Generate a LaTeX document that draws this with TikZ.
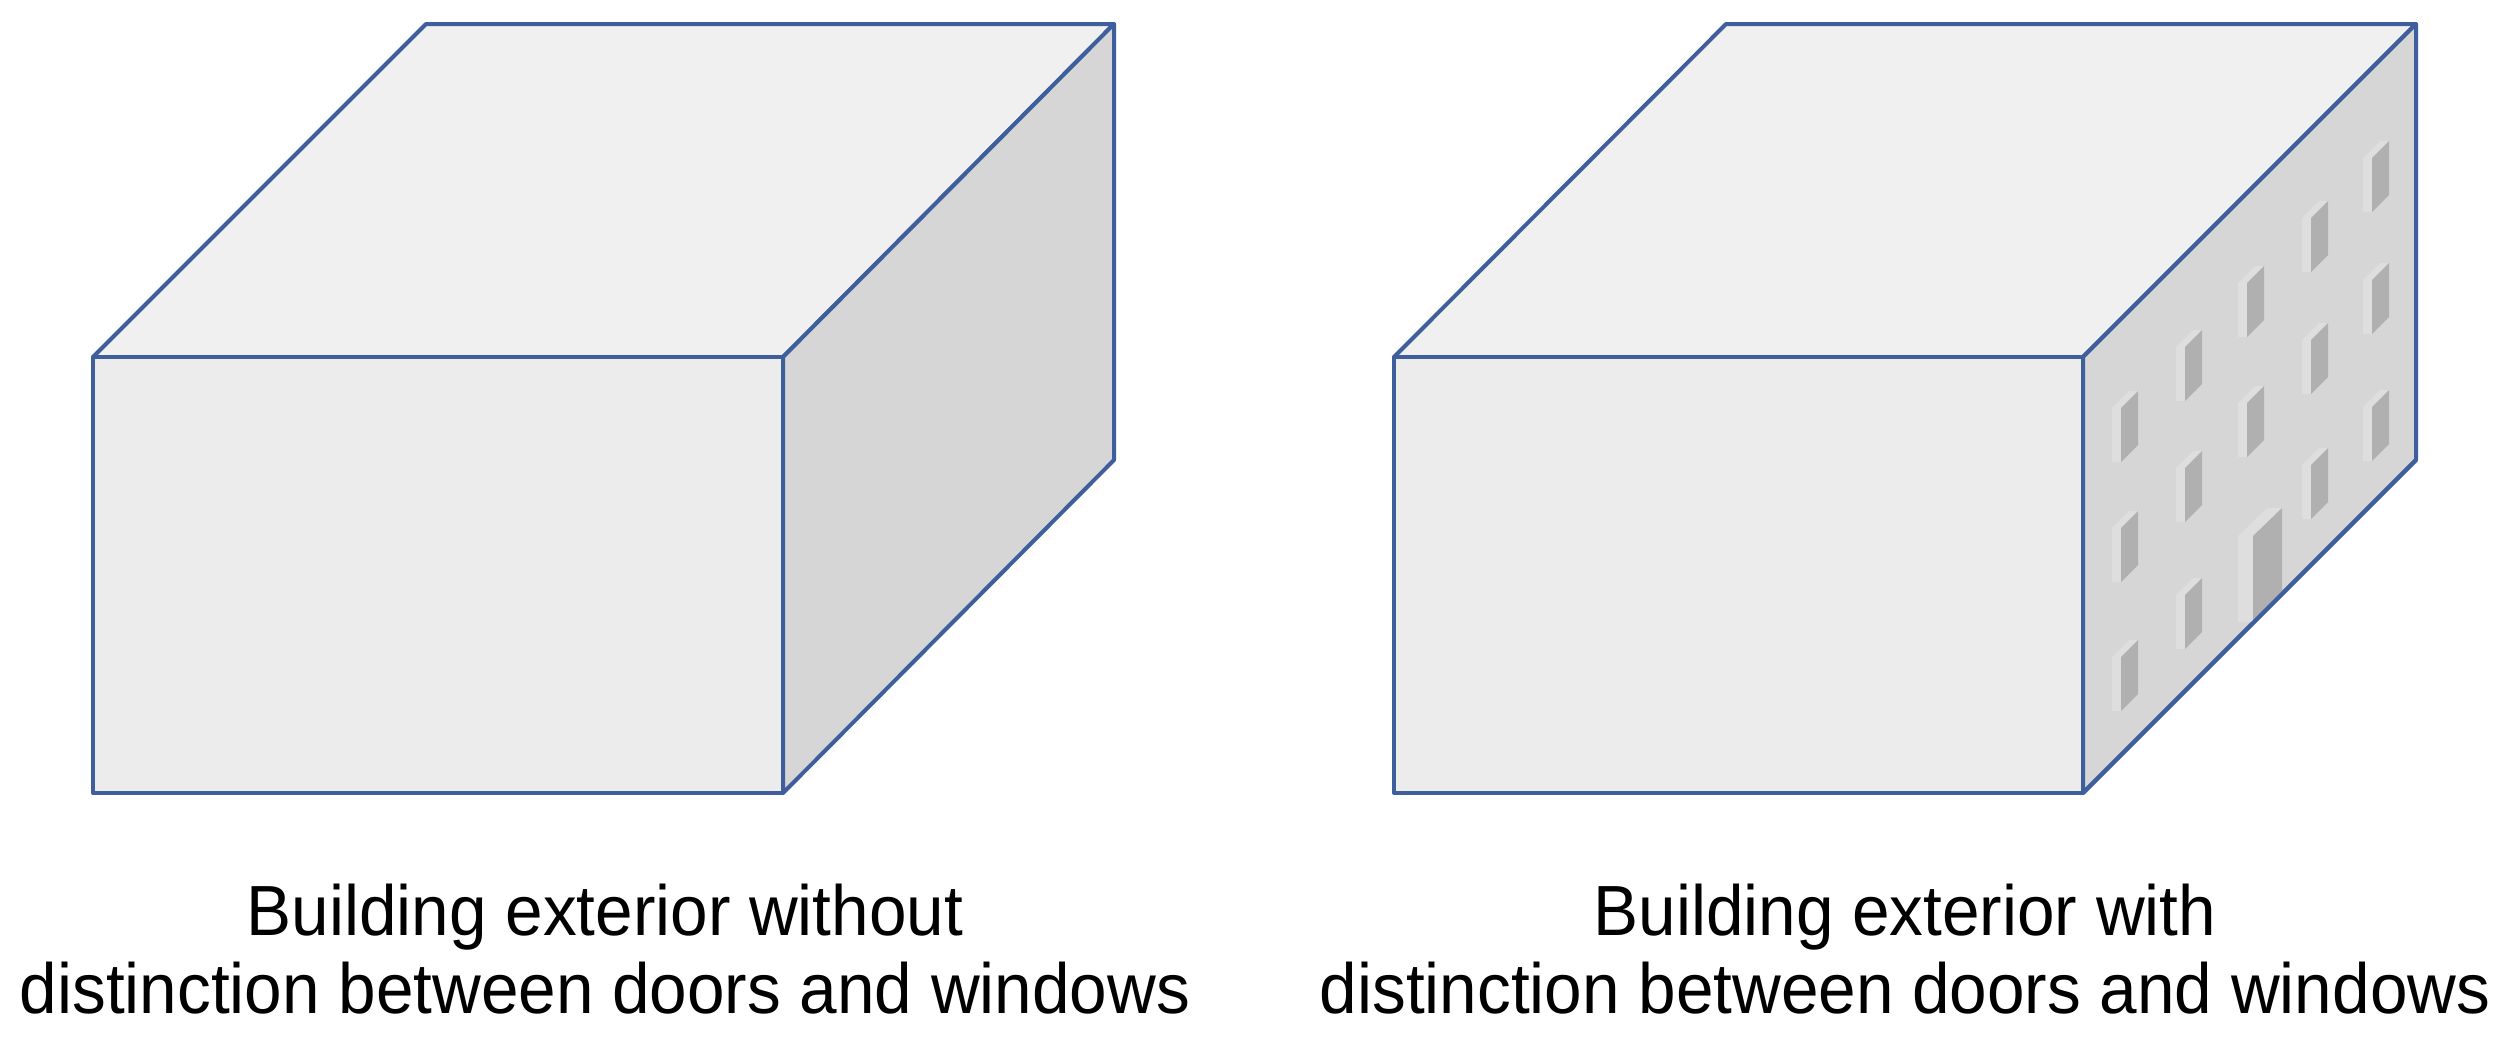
\documentclass[tikz,border=0pt]{standalone}
\usepackage{fontspec}
\setmainfont{Liberation Sans}[FakeStretch=0.95]
\definecolor{edgeblue}{HTML}{3F5F9C}
\tikzset{
    topface/.style = {draw=edgeblue,line width=0.04cm,line join=round,fill=black!6},
    frontface/.style = {draw=edgeblue,line width=0.04cm,line join=round,fill=black!7.5},
    sideface/.style = {draw=edgeblue,line width=0.04cm,line join=round,fill=black!16},
    glassface/.style = {fill=black!31},
    revealface/.style = {fill=black!13},
    caption/.style = {align=center,font=\fontsize{20.2}{22.4}\selectfont,inner sep=0pt},
    pics/windowbox/.style = {code={
        \fill[revealface] (0,0) -- (9,0) -- (9,54) -- (0,54) -- cycle;
        \fill[revealface] (0,0) -- (9,0) -- (26,-17) -- (17,-17) -- cycle;
        \fill[glassface] (9,0) -- (26,-17) -- (26,37) -- (9,54) -- cycle;
    }}
}
\begin{document}
\begin{tikzpicture}[x=0.01cm,y=-0.01cm]
  \useasboundingbox (0,0) rectangle (2510,1042);

  % left block
  \coordinate (a1) at (93,357);
  \coordinate (a2) at (783,357);
  \coordinate (a3) at (783,793);
  \coordinate (a4) at (93,793);
  \coordinate (a5) at (426,24);
  \coordinate (a6) at (1114,24);
  \coordinate (a7) at (1114,460);
  \draw[topface] (a1) -- (a5) -- (a6) -- (a2) -- cycle;
  \draw[sideface] (a2) -- (a6) -- (a7) -- (a3) -- cycle;
  \draw[frontface] (a1) -- (a2) -- (a3) -- (a4) -- cycle;

  % right block
  \coordinate (b1) at (1394,357);
  \coordinate (b2) at (2083,357);
  \coordinate (b3) at (2083,793);
  \coordinate (b4) at (1394,793);
  \coordinate (b5) at (1726,24);
  \coordinate (b6) at (2416,24);
  \coordinate (b7) at (2416,460);
  \draw[topface] (b1) -- (b5) -- (b6) -- (b2) -- cycle;
  \draw[sideface] (b2) -- (b6) -- (b7) -- (b3) -- cycle;
  \draw[frontface] (b1) -- (b2) -- (b3) -- (b4) -- cycle;

  \foreach \wx/\wy in {2112/408,2112/528,2112/657,
                       2176/347,2176/468,2176/595,
                       2238/283,2238/403,
                       2302/218,2302/340,2302/465,
                       2363/158,2363/280,2363/407}
    \pic at (\wx,\wy) {windowbox};

  % door
  \fill[revealface] (2238,536) -- (2253,536) -- (2253,622) -- (2238,622) -- cycle;
  \fill[revealface] (2238,536) -- (2253,536) -- (2282,508) -- (2267,508) -- cycle;
  \fill[glassface] (2253,536) -- (2282,508) -- (2282,593) -- (2253,622) -- cycle;
  \draw[sideface,fill=none] (b3) -- (b7);

  \node[caption] (capa) at (605,949) {Building exterior without\\distinction between doors and windows};
  \node[caption] (capb) at (1905,949) {Building exterior with\\distinction between doors and windows};
\end{tikzpicture}
\end{document}
